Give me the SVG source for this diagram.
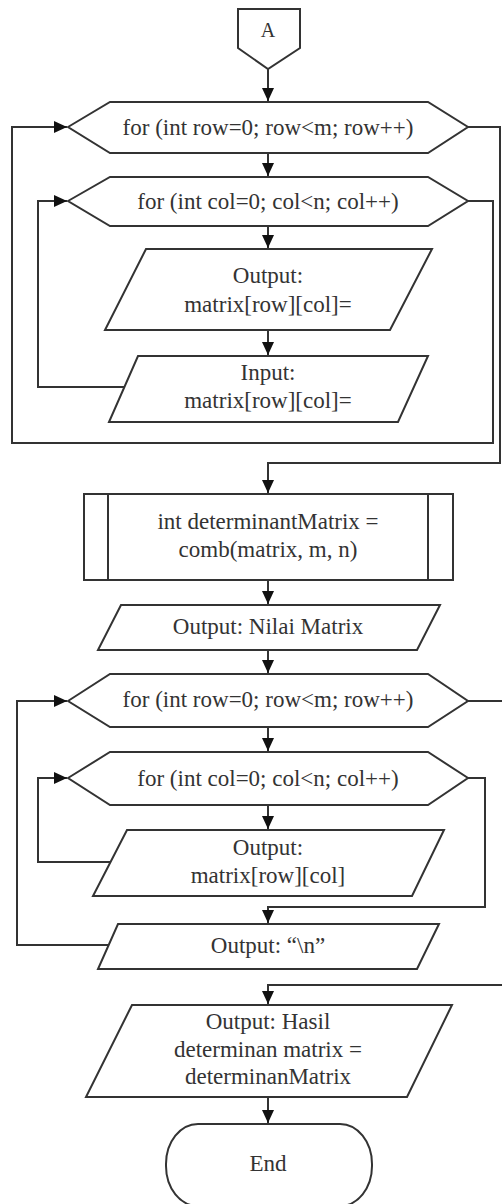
<svg xmlns="http://www.w3.org/2000/svg" width="502" height="1204" viewBox="0 0 502 1204">
<style>
.s{fill:#fff;stroke:#333;stroke-width:2;stroke-linejoin:miter}
.c{fill:none;stroke:#333;stroke-width:2}
.t{font-family:"Liberation Serif","Times New Roman",serif;font-size:23px;fill:#333;text-anchor:middle}
</style>
<defs>
<marker id="ah" markerUnits="userSpaceOnUse" markerWidth="14" markerHeight="12" refX="13" refY="6" orient="auto">
<path d="M0,0 L13,6 L0,12 z" fill="#111"/>
</marker>
</defs>
<rect width="502" height="1204" fill="#fff"/>
<g id="connectors">
<path class="c" d="M268,69 V101" marker-end="url(#ah)"/>
<path class="c" d="M268,153 V176" marker-end="url(#ah)"/>
<path class="c" d="M268,226 V248" marker-end="url(#ah)"/>
<path class="c" d="M268,330 V355" marker-end="url(#ah)"/>
<path class="c" d="M124,387 H38 V201 H67" marker-end="url(#ah)"/>
<path class="c" d="M468,201 H493 V443 H12 V127 H67" marker-end="url(#ah)"/>
<path class="c" d="M468,127 H500 V463 H268 V493" marker-end="url(#ah)"/>
<path class="c" d="M268,580 V604" marker-end="url(#ah)"/>
<path class="c" d="M268,650 V673" marker-end="url(#ah)"/>
<path class="c" d="M268,727 V751" marker-end="url(#ah)"/>
<path class="c" d="M268,805 V829" marker-end="url(#ah)"/>
<path class="c" d="M110,862 H38 V778 H67" marker-end="url(#ah)"/>
<path class="c" d="M468,778 H485 V907 H268 V923" marker-end="url(#ah)"/>
<path class="c" d="M109,945 H17 V701 H67" marker-end="url(#ah)"/>
<path class="c" d="M468,701 H505 V985 H268 V1004" marker-end="url(#ah)"/>
<path class="c" d="M268,1097 V1123" marker-end="url(#ah)"/>
</g>
<g id="nodeA">
<path class="s" d="M238,9 H300 V48 L268,69 L238,48 Z"/>
<text class="t" x="268" y="37" style="font-size:20px">A</text>
</g>
<g id="forRow1">
<path class="s" d="M68,127 L110,102 H428 L468,127 L428,153 H110 Z"/>
<text class="t" x="268" y="135">for (int row=0; row&lt;m; row++)</text>
</g>
<g id="forCol1">
<path class="s" d="M68,201 L110,177 H428 L468,201 L428,226 H110 Z"/>
<text class="t" x="268" y="209">for (int col=0; col&lt;n; col++)</text>
</g>
<g id="outMatrix1">
<path class="s" d="M146,249 H432 L390,330 H105 Z"/>
<text class="t" x="268" y="283">Output:</text>
<text class="t" x="268" y="312">matrix[row][col]=</text>
</g>
<g id="inMatrix">
<path class="s" d="M138,356 H428 L398,422 H109 Z"/>
<text class="t" x="268" y="380">Input:</text>
<text class="t" x="268" y="408">matrix[row][col]=</text>
</g>
<g id="detProc">
<rect class="s" x="84" y="494" width="369" height="86"/>
<path class="c" d="M108,494 V580 M428,494 V580"/>
<text class="t" x="268" y="529">int determinantMatrix =</text>
<text class="t" x="268" y="557">comb(matrix, m, n)</text>
</g>
<g id="outNilai">
<path class="s" d="M121,605 H440 L417,650 H98 Z"/>
<text class="t" x="268" y="634">Output: Nilai Matrix</text>
</g>
<g id="forRow2">
<path class="s" d="M68,701 L110,674 H428 L468,701 L428,727 H110 Z"/>
<text class="t" x="268" y="707">for (int row=0; row&lt;m; row++)</text>
</g>
<g id="forCol2">
<path class="s" d="M68,778 L110,752 H428 L468,778 L428,805 H110 Z"/>
<text class="t" x="268" y="786">for (int col=0; col&lt;n; col++)</text>
</g>
<g id="outMatrix2">
<path class="s" d="M127,830 H444 L412,896 H93 Z"/>
<text class="t" x="268" y="855">Output:</text>
<text class="t" x="268" y="883">matrix[row][col]</text>
</g>
<g id="outNewline">
<path class="s" d="M118,924 H439 L417,969 H98 Z"/>
<text class="t" x="268" y="953">Output: “\n”</text>
</g>
<g id="outHasil">
<path class="s" d="M132,1005 H452 L407,1097 H86 Z"/>
<text class="t" x="268" y="1029">Output: Hasil</text>
<text class="t" x="268" y="1057">determinan matrix =</text>
<text class="t" x="268" y="1084">determinanMatrix</text>
</g>
<g id="end">
<rect class="s" x="166" y="1124" width="206" height="82" rx="32" ry="40"/>
<text class="t" x="268" y="1171">End</text>
</g>
</svg>
